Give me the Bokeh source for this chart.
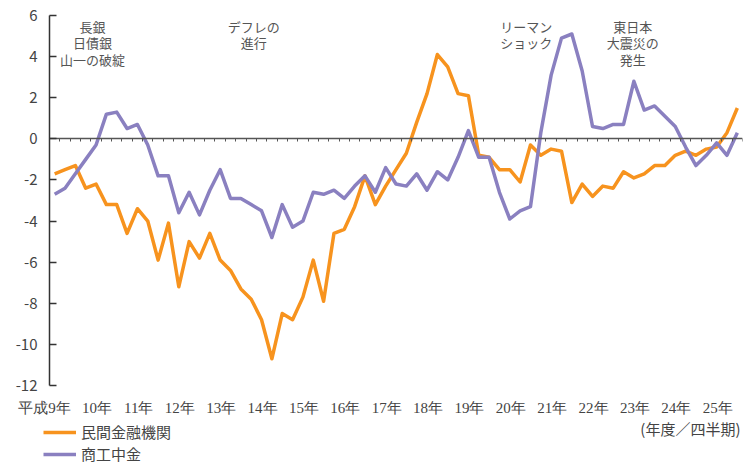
from bokeh.plotting import figure
from bokeh.models import (LinearAxis, FixedTicker, Range1d, Label, LabelSet, Legend, LegendItem,
                          ColumnDataSource, CustomJSTickFormatter)
from bokeh.embed import file_html
from bokeh.resources import INLINE

# ---- data (quarterly, 平成9年度 Q1 .. 平成25年度 Q3) ----
year_labels = ["平成9年", "10年", "11年", "12年", "13年", "14年", "15年", "16年", "17年",
               "18年", "19年", "20年", "21年", "22年", "23年", "24年", "25年"]

minkan = [-1.7, -1.5, -1.3, -2.4, -2.2, -3.2, -3.2, -4.6, -3.4, -4.0, -5.9, -4.1,
          -7.2, -5.0, -5.8, -4.6, -5.9, -6.4, -7.3, -7.8, -8.8, -10.7, -8.5, -8.8,
          -7.7, -5.9, -7.9, -4.6, -4.4, -3.3, -1.8, -3.2, -2.3, -1.5, -0.7, 0.8,
          2.2, 4.1, 3.5, 2.2, 2.1, -0.8, -0.9, -1.5, -1.5, -2.1, -0.3, -0.8,
          -0.5, -0.6, -3.1, -2.2, -2.8, -2.3, -2.4, -1.6, -1.9, -1.7, -1.3, -1.3,
          -0.8, -0.6, -0.8, -0.5, -0.4, 0.3, 1.5]

shoko = [-2.7, -2.4, -1.7, -1.0, -0.3, 1.2, 1.3, 0.5, 0.7, -0.3, -1.8, -1.8,
         -3.6, -2.6, -3.7, -2.5, -1.5, -2.9, -2.9, -3.2, -3.5, -4.8, -3.2, -4.3,
         -4.0, -2.6, -2.7, -2.5, -2.9, -2.3, -1.8, -2.6, -1.4, -2.2, -2.3, -1.7,
         -2.5, -1.6, -2.0, -0.9, 0.4, -0.9, -0.9, -2.6, -3.9, -3.5, -3.3, 0.3,
         3.1, 4.9, 5.1, 3.3, 0.6, 0.5, 0.7, 0.7, 2.8, 1.4, 1.6, 1.1,
         0.6, -0.4, -1.3, -0.8, -0.2, -0.8, 0.3]

series_names = ["民間金融機関", "商工中金"]
y_ticks = list(range(-12, 7, 2))
unit_text = "(年度／四半期)"

# ---- styling ----
FONT = "Noto Sans CJK JP"
ORANGE = "#F7931E"
PURPLE = "#8A80C0"
AXIS = "#333333"
TEXT = "#444444"

n = len(minkan)
xs = list(range(n))
Y_MIN, Y_MAX = -12, 6

# geometry: plot area of the axes is 693 x 370 px, placed at (49, 15) in a 749 x 464 canvas
AXES_W, AXES_H = 693, 370
LEFT, TOP, RIGHT = 49, 15, 7
FRAME_W, FRAME_H = 749 - RIGHT, 464
px_x = AXES_W / n
px_y = AXES_H / (Y_MAX - Y_MIN)
x_start = -0.5 - LEFT / px_x          # frame extends left of the y axis (for labels)
y_top = Y_MAX + TOP / px_y            # and above the top tick
y_bottom = y_top - FRAME_H / px_y     # and below the x axis (for labels/legend)

p = figure(frame_width=FRAME_W, frame_height=FRAME_H,
           x_range=Range1d(x_start, n - 0.5), y_range=Range1d(y_bottom, y_top),
           x_axis_location=None, y_axis_location=None,
           output_backend="svg", toolbar_location=None,
           min_border_left=0, min_border_right=RIGHT, min_border_top=0, min_border_bottom=0)
p.outline_line_color = None
p.xgrid.grid_line_color = None
p.ygrid.grid_line_color = None
p.background_fill_color = "white"
p.border_fill_color = "white"

# y axis (placed at the left edge of the data)
yax = LinearAxis(fixed_location=-0.5, bounds=(Y_MIN, Y_MAX),
                 ticker=FixedTicker(ticks=y_ticks))
yax.major_label_overrides = {t: str(t) for t in y_ticks}
yax.major_tick_in = 7
yax.major_tick_out = 0
yax.minor_tick_line_color = None
yax.axis_line_color = AXIS
yax.axis_line_width = 1.5
yax.major_tick_line_color = AXIS
yax.major_tick_line_width = 1.5
yax.major_label_text_font = FONT
yax.major_label_text_font_size = "15px"
yax.major_label_text_color = TEXT
yax.major_label_standoff = 12
p.add_layout(yax, "left")

# zero line axis with quarter ticks
zax = LinearAxis(fixed_location=0, bounds=(-0.5, n - 0.5),
                 ticker=FixedTicker(ticks=[i - 0.5 for i in range(n + 1)]),
                 formatter=CustomJSTickFormatter(code="return ''"))
zax.axis_line_color = "#555555"
zax.axis_line_width = 1.5
zax.major_tick_line_color = "#555555"
zax.major_tick_line_width = 1
zax.major_tick_in = 0
zax.major_tick_out = 3
zax.minor_tick_line_color = None
zax.major_label_text_font_size = "1px"
p.add_layout(zax, "below")

src = ColumnDataSource(dict(x=xs, minkan=minkan, shoko=shoko))
r1 = p.line("x", "minkan", source=src, line_color=ORANGE, line_width=3.5, line_join="round")
r2 = p.line("x", "shoko", source=src, line_color=PURPLE, line_width=3.5, line_join="round")

# year labels under the chart (at the first quarter of each fiscal year)
ysrc = ColumnDataSource(dict(x=[4 * i for i in range(len(year_labels))],
                             y=[Y_MIN] * len(year_labels), text=year_labels))
p.add_layout(LabelSet(x="x", y="y", text="text", source=ysrc,
                      x_offset=16, y_offset=-22, text_align="right", text_baseline="middle",
                      text_font=FONT, text_font_size="15px", text_color=TEXT))

p.add_layout(Label(x=n - 0.5, y=Y_MIN, x_offset=-2, y_offset=-43, text=unit_text,
                   text_align="right", text_baseline="middle",
                   text_font=FONT, text_font_size="15px", text_color=TEXT))

legend = Legend(items=[LegendItem(label=series_names[0], renderers=[r1]),
                       LegendItem(label=series_names[1], renderers=[r2])],
                location=(43, 0), orientation="vertical",
                glyph_width=33, glyph_height=16, label_height=16, spacing=1,
                label_standoff=5, padding=0, margin=0,
                border_line_color=None, background_fill_alpha=0,
                label_text_font=FONT, label_text_font_size="15px", label_text_color=TEXT)
p.add_layout(legend)

# event annotations
notes = [("長銀\n日債銀\n山一の破綻", 3.66),
         ("デフレの\n進行", 19.25),
         ("リーマン\nショック", 45.6),
         ("東日本\n大震災の\n発生", 55.9)]
for txt, xpos in notes:
    p.add_layout(Label(x=xpos, y=Y_MAX - 1 / px_y, text=txt,
                       text_align="center", text_baseline="top",
                       text_font=FONT, text_font_size="13px", text_color="#555555",
                       text_line_height=0.87))

open("out.html", "w").write(file_html(p, INLINE))
